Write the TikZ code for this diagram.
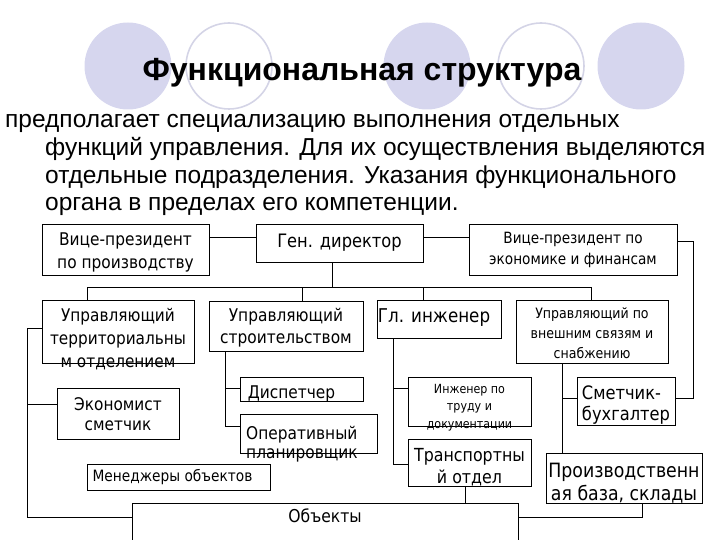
\documentclass[tikz,border=0pt]{standalone}
\usepackage{fontspec}
\setmainfont{Liberation Sans}
\newfontfamily\chartfont[FakeStretch=0.88]{DejaVu Sans}
\definecolor{lav}{HTML}{D6D6EE}
\definecolor{lavline}{HTML}{D4D4E6}
% raise, size, skip, content
\newcommand\ml[4]{\raisebox{#1pt}[0pt][0pt]{\fontsize{#2}{#3}\selectfont\begin{tabular}{@{}c@{}}#4\end{tabular}}}
\newcommand\mll[4]{\raisebox{#1pt}[0pt][0pt]{\fontsize{#2}{#3}\selectfont\begin{tabular}{@{}l@{}}#4\end{tabular}}}
\begin{document}
\begin{tikzpicture}[x=1pt,y=-1pt,
  box/.style={draw, line width=0.8pt, inner sep=0pt, font=\chartfont, fill=white},
  conn/.style={line width=0.8pt},
  body/.style={anchor=base west, font=\fontsize{24.5}{29}\selectfont, inner sep=0pt},
  fcirc/.style={fill=lav, draw=none},
  ocirc/.style={draw=lavline, line width=1.6pt}]
\useasboundingbox (0,0) rectangle (720,540);
\clip (0,0) rectangle (720,540);
% decorative circles
\fill[fcirc] (128,66) circle (43.5pt);
\draw[ocirc] (229,66) circle (43pt);
\fill[fcirc] (427,66) circle (43.5pt);
\draw[ocirc] (541,66) circle (43pt);
\fill[fcirc] (641,66) circle (43.5pt);
% title and text
\node[anchor=base, font=\bfseries\fontsize{32}{38}\selectfont] (title) at (362,81) {Функциональная структура};
\node[body] (t1) at (5,128) {предполагает специализацию выполнения отдельных};
\node[body] (t2) at (45,156) {функций управления. Для их осуществления выделяются};
\node[body] (t3) at (45,184) {отдельные подразделения. Указания функционального};
\node[body] (t4) at (45,211) {органа в пределах его компетенции.};
% boxes
\node[box, minimum width=167pt, minimum height=51pt] (vpp) at (125.5,249.5) {\ml{-7}{17.5}{23}{Вице-президент\\по производству}};
\node[box, minimum width=167pt, minimum height=38pt] (gen) at (339.5,243) {\ml{-4.7}{18.5}{22}{Ген. директор}};
\node[box, minimum width=208pt, minimum height=51pt] (vpe) at (573,249.5) {\ml{-3.9}{15.5}{21}{Вице-президент по\\экономике и финансам}};
\node[box, minimum width=152pt, minimum height=63pt] (upt) at (118,331.5) {\ml{-12.3}{17.4}{23}{Управляющий\\территориальны\\м отделением}};
\node[box, minimum width=154pt, minimum height=50pt] (ups) at (286,326) {\ml{-6.4}{17.5}{22}{Управляющий\\строительством}};
\node[box, minimum width=124pt, minimum height=38pt] (gli) at (439,319) {\hspace*{-10pt}\ml{-3.8}{19}{22}{Гл. инженер}};
\node[box, minimum width=152pt, minimum height=63pt] (upv) at (592,331.5) {\ml{-7}{14.3}{20}{Управляющий по\\внешним связям и\\снабжению}};
\node[box, minimum width=122pt, minimum height=51pt] (eco) at (118,413.5) {\ml{-7.8}{17.4}{20}{Экономист\\сметчик}};
\node[box, minimum width=123pt, minimum height=24pt] (dis) at (301.5,389) {\hspace*{-20pt}\ml{-9.4}{17.5}{20}{Диспетчер}};
\node[box, minimum width=137pt, minimum height=39pt] (opr) at (308.5,433.5) {\hspace*{-13pt}\mll{-16}{17.5}{19.5}{Оперативный\\планировщик}};
\node[box, minimum width=183pt, minimum height=26pt] (mgr) at (178.5,477) {\hspace*{-12pt}\ml{-4.9}{15.6}{18}{Менеджеры объектов}};
\node[box, minimum width=123pt, minimum height=49pt] (itr) at (469.5,401.5) {\ml{-8.5}{12.6}{17.5}{Инженер по\\труду и\\документации}};
\node[box, minimum width=123pt, minimum height=47pt] (trn) at (469.5,462.5) {\ml{-10}{18}{22}{Транспортны\\й отдел}};
\node[box, minimum width=98pt, minimum height=48pt] (smb) at (626,401) {\mll{-9.1}{18.5}{21}{Сметчик-\\бухгалтер}};
\node[box, minimum width=156pt, minimum height=50pt] (prb) at (624,478) {\ml{-11.4}{19.7}{23}{Производственн\\ая база, склады}};
\node[box, minimum width=386pt, minimum height=54pt] (obj) at (325,530) {\ml{7.6}{17.7}{20}{Объекты}};
% connectors
\coordinate (h1) at (0,237);
\draw[conn] (vpp.east |- h1) -- (gen.west |- h1);
\draw[conn] (gen.east |- h1) -- (vpe.west |- h1);
\coordinate (busL) at (87,287);
\coordinate (busR) at (591,287);
\coordinate (g1) at (332,287);
\coordinate (b2) at (302,287);
\coordinate (b3) at (423,287);
\draw[conn] (g1 |- gen.south) -- (g1);
\draw[conn] (busL |- upt.north) -- (busL) -- (busR) -- (busR |- upv.north);
\draw[conn] (b2) -- (b2 |- ups.north);
\draw[conn] (b3) -- (b3 |- gli.north);
% left branch
\coordinate (L1) at (27,328);
\coordinate (L2) at (27,517);
\coordinate (L3) at (27,404);
\draw[conn] (upt.west |- L1) -- (L1) -- (L2) -- (obj.west |- L2);
\draw[conn] (L3) -- (eco.west |- L3);
% construction branch
\coordinate (S1) at (225,388);
\coordinate (S2) at (225,426);
\draw[conn] (S1 |- ups.south) -- (S2) -- (opr.west |- S2);
\draw[conn] (S1) -- (dis.west |- S1);
% chief engineer branch
\coordinate (G1) at (393,388);
\coordinate (G2) at (393,464);
\draw[conn] (G1 |- gli.south) -- (G2) -- (trn.west |- G2);
\draw[conn] (G1) -- (itr.west |- G1);
% external relations branch
\coordinate (V1) at (562,398);
\draw[conn] (V1 |- upv.south) -- (V1 |- prb.north);
\draw[conn] (V1) -- (smb.west |- V1);
% VP economics
\coordinate (E1) at (693,241);
\coordinate (E2) at (693,398);
\draw[conn] (vpe.east |- E1) -- (E1) -- (E2) -- (smb.east |- E2);
% transport to objects
\coordinate (T1) at (465,495);
\draw[conn] (T1 |- trn.south) -- (T1 |- obj.north);
% production base to objects
\coordinate (P1) at (642,517);
\draw[conn] (obj.east |- P1) -- (P1) -- (P1 |- prb.south);
\end{tikzpicture}
\end{document}
